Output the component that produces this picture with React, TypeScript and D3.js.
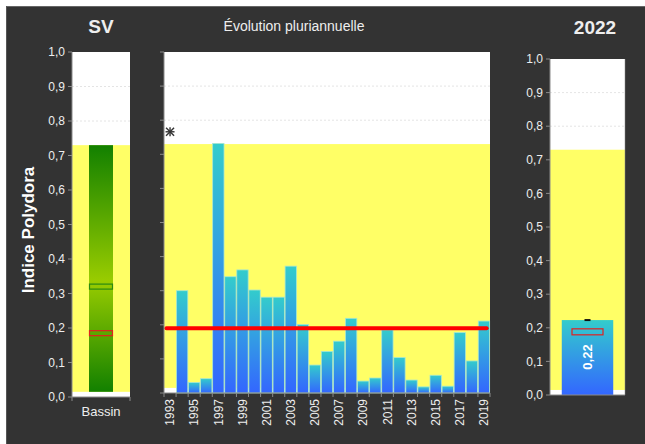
import React from 'react';
import * as d3 from 'd3';

// data
const years = ['1993','1994','1995','1996','1997','1998','1999','2000','2001','2002','2003','2004','2005','2006','2007','2008','2009','2010','2011','2012','2013','2014','2015','2016','2017','2018','2019'];
const values = [null,0.30,0.031,0.042,0.732,0.341,0.361,0.302,0.281,0.281,0.372,0.201,0.082,0.122,0.152,0.219,0.035,0.044,0.185,0.104,0.038,0.018,0.052,0.02,0.177,0.094,0.211];
const missingMark = 0.766; // asterisk for 1993
const meanLine = 0.19;
const yellowBand = [0.015, 0.73];
const yTicks = [0,0.1,0.2,0.3,0.4,0.5,0.6,0.7,0.8,0.9,1.0];
const basinRef = [0.185, 0.32]; // red, green markers
const lastYear = '2022';
const lastValue = 0.223;
const lastRef = 0.188;

const FONT = 'Liberation Sans, Arial, sans-serif';
const TXT = '#eeeeee';
const AXIS = '#8a8a8a';
const fmt = (v: number) => d3.format('.1f')(v).replace('.', ',');

function App() {
  // left panel
  const yL = d3.scaleLinear().domain([0,1]).range([397,52]);
  const lx0 = 72, lx1 = 130;
  // middle panel
  const yM = d3.scaleLinear().domain([0,1]).range([393,52]);
  const mx0 = 164, mx1 = 490;
  const xM = d3.scaleBand<string>().domain(years).range([mx0,mx1]).paddingInner(0.06).paddingOuter(0.03);
  // right panel
  const yR = d3.scaleLinear().domain([0,1]).range([395,59]);
  const rx0 = 550, rx1 = 625;
  const xR = d3.scaleBand<string>().domain([lastYear]).range([rx0,rx1]).paddingInner(0.3).paddingOuter(0.16);

  const boundaries = years.map((_, i) => mx0 + i * (mx1 - mx0) / years.length).concat([mx1]);

  const grid = (y: d3.ScaleLinear<number, number>, x0: number, x1: number) =>
    yTicks.filter(t => t > 0 && t < 1).map(t => (
      <line key={t} x1={x0} x2={x1} y1={y(t)} y2={y(t)} stroke="#dddddd" strokeDasharray="2,2" strokeWidth={0.8} />
    ));

  const yAxis = (y: d3.ScaleLinear<number, number>, x: number, labels: boolean) => (
    <g>
      <line x1={x} x2={x} y1={y(1)} y2={y(0)} stroke={AXIS} />
      {yTicks.map(t => (
        <g key={t}>
          <line x1={x - 4} x2={x} y1={y(t)} y2={y(t)} stroke={AXIS} />
          {labels && (
            <text x={x - 7} y={y(t)} dy="0.35em" textAnchor="end" fontSize={12} fill={TXT} fontFamily={FONT}>{fmt(t)}</text>
          )}
        </g>
      ))}
    </g>
  );

  const mid = xM.bandwidth() / 2;
  const rb = xR(lastYear) as number;
  const rw = xR.bandwidth();

  return (
    <svg width={645} height={444} style={{ position: 'absolute', left: 0, top: 0 }}>
      <defs>
        <linearGradient id="blueGrad" x1="0" y1="0" x2="0" y2="1">
          <stop offset="0%" stopColor="#33cccc" />
          <stop offset="100%" stopColor="#3366ff" />
        </linearGradient>
        <linearGradient id="greenGrad" x1="0" y1="0" x2="0" y2="1">
          <stop offset="0%" stopColor="#128000" />
          <stop offset="55%" stopColor="#99cc00" />
          <stop offset="100%" stopColor="#128000" />
        </linearGradient>
      </defs>
      <rect x={0} y={0} width={645} height={444} fill="#ffffff" />
      <rect x={6} y={6} width={639} height={438} fill="#333333" />
      <line x1={6} x2={645} y1={6.5} y2={6.5} stroke="#666666" />
      <line x1={6.5} x2={6.5} y1={6} y2={444} stroke="#555555" />

      {/* titles */}
      <text x={101} y={33} textAnchor="middle" fontSize={19} fontWeight="bold" fill={TXT} fontFamily={FONT}>SV</text>
      <text x={294} y={31} textAnchor="middle" fontSize={14} fill={TXT} fontFamily={FONT}>Évolution pluriannuelle</text>
      <text x={595} y={34} textAnchor="middle" fontSize={19} fontWeight="bold" fill={TXT} fontFamily={FONT}>{lastYear}</text>
      <text transform="translate(28,230) rotate(-90)" textAnchor="middle" dy="0.35em" fontSize={17} fontWeight="bold" fill="#ffffff" fontFamily={FONT}>Indice Polydora</text>

      {/* left panel */}
      <rect x={lx0} y={yL(1)} width={lx1 - lx0} height={yL(0) - yL(1)} fill="#ffffff" />
      {grid(yL, lx0, lx1)}
      <rect x={lx0} y={yL(yellowBand[1])} width={lx1 - lx0} height={yL(yellowBand[0]) - yL(yellowBand[1])} fill="#ffff66" />
      <rect x={89} y={yL(yellowBand[1])} width={24} height={yL(yellowBand[0]) - yL(yellowBand[1])} fill="url(#greenGrad)" />
      <rect x={89.5} y={yL(basinRef[1]) - 2.5} width={23} height={5} fill="none" stroke="#2a8a10" strokeWidth={1.2} />
      <rect x={89.5} y={yL(basinRef[0]) - 2.5} width={23} height={5} fill="none" stroke="#e02020" strokeWidth={1.2} />
      {yAxis(yL, lx0, true)}
      <line x1={lx0} x2={lx1} y1={yL(0)} y2={yL(0)} stroke={AXIS} />
      <line x1={lx0} x2={lx0} y1={yL(0)} y2={yL(0) + 4} stroke={AXIS} />
      <line x1={lx1} x2={lx1} y1={yL(0)} y2={yL(0) + 4} stroke={AXIS} />
      <text x={(lx0 + lx1) / 2} y={416} textAnchor="middle" fontSize={13} fill={TXT} fontFamily={FONT}>Bassin</text>

      {/* middle panel */}
      <rect x={mx0} y={yM(1)} width={mx1 - mx0} height={yM(0) - yM(1)} fill="#ffffff" />
      {grid(yM, mx0, mx1)}
      <rect x={mx0} y={yM(yellowBand[1])} width={mx1 - mx0} height={yM(yellowBand[0]) - yM(yellowBand[1])} fill="#ffff66" />
      {years.map((yr, i) => {
        const v = values[i];
        if (v == null) return null;
        const x = xM(yr) as number;
        return (
          <rect key={yr} x={x} y={yM(v)} width={xM.bandwidth()} height={yM(0) - yM(v)}
            fill="url(#blueGrad)" stroke="#a8e6d0" strokeWidth={0.8} />
        );
      })}
      {years.map((yr, i) => values[i] == null ? (
        <g key={'m' + yr} transform={`translate(${(xM(yr) as number) + mid},${yM(missingMark)})`} stroke="#333333" strokeWidth={1.4}>
          <line x1={-4} x2={4} y1={-4} y2={4} />
          <line x1={-4} x2={4} y1={4} y2={-4} />
          <line x1={0} x2={0} y1={-4.5} y2={4.5} />
          <line x1={-4.5} x2={4.5} y1={0} y2={0} />
        </g>
      ) : null)}
      <line x1={(xM(years[0]) as number) + 2} x2={(xM(years[years.length - 1]) as number) + xM.bandwidth() - 3}
        y1={yM(meanLine)} y2={yM(meanLine)} stroke="#ff0000" strokeWidth={4} strokeLinecap="round" />
      {yAxis(yM, mx0, false)}
      <line x1={mx0} x2={mx1} y1={yM(0)} y2={yM(0)} stroke={AXIS} />
      {boundaries.map((b, i) => (
        <line key={i} x1={b} x2={b} y1={yM(0)} y2={yM(0) + 4} stroke={AXIS} />
      ))}
      {years.map((yr, i) => i % 2 === 0 ? (
        <text key={'l' + yr} transform={`translate(${(xM(yr) as number) + mid},399) rotate(-90)`}
          textAnchor="end" dy="0.35em" fontSize={12} fill={TXT} fontFamily={FONT}>{yr}</text>
      ) : null)}

      {/* right panel */}
      <rect x={rx0} y={yR(1)} width={rx1 - rx0} height={yR(0) - yR(1)} fill="#ffffff" />
      {grid(yR, rx0, rx1)}
      <rect x={rx0} y={yR(yellowBand[1])} width={rx1 - rx0} height={yR(yellowBand[0]) - yR(yellowBand[1])} fill="#ffff66" />
      <rect x={rb} y={yR(lastValue)} width={rw} height={yR(0) - yR(lastValue)} fill="url(#blueGrad)" />
      <line x1={rb + rw / 2 - 3} x2={rb + rw / 2 + 3} y1={yR(lastValue)} y2={yR(lastValue)} stroke="#111111" strokeWidth={2} />
      <rect x={rb + rw / 2 - 15.5} y={yR(lastRef) - 3} width={31} height={6} fill="none" stroke="#e02020" strokeWidth={1.2} />
      <text transform={`translate(${rb + rw / 2},357) rotate(-90)`} textAnchor="middle" dy="0.35em" fontSize={13} fontWeight="bold" fill="#ffffff" fontFamily={FONT}>
        {d3.format('.2f')(lastValue).replace('.', ',')}
      </text>
      {yAxis(yR, rx0, true)}
      <line x1={rx0} x2={rx1} y1={yR(0)} y2={yR(0)} stroke={AXIS} />
      <line x1={rx1} x2={rx1} y1={yR(1)} y2={yR(0)} stroke={AXIS} strokeOpacity={0.5} />
    </svg>
  );
}

export default App;
